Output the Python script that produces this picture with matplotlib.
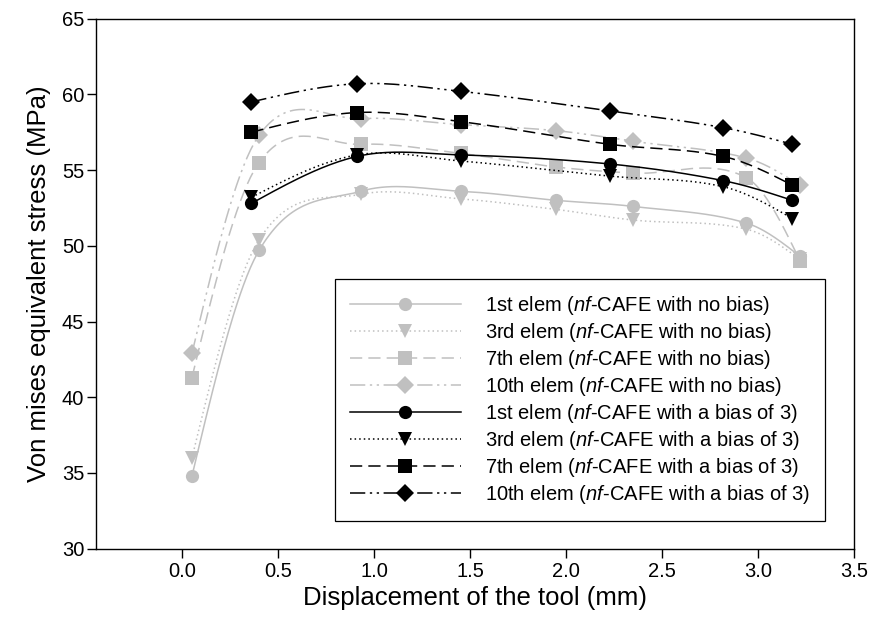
import numpy as np
import matplotlib
matplotlib.use('Agg')
import matplotlib.pyplot as plt
from matplotlib.lines import Line2D

plt.rcParams['font.family'] = ['Liberation Sans', 'DejaVu Sans']
plt.rcParams['mathtext.fontset'] = 'custom'
plt.rcParams['mathtext.rm'] = 'Liberation Sans'
plt.rcParams['mathtext.it'] = 'Liberation Sans:italic'

# displacement (mm)
x_nobias = [0.05, 0.40, 0.93, 1.45, 1.95, 2.35, 2.94, 3.22]
x_bias = [0.36, 0.91, 1.45, 2.23, 2.82, 3.18]

# von mises stress (MPa), nf-CAFE with no bias
nb_1st = [34.8, 49.7, 53.6, 53.6, 53.0, 52.6, 51.5, 49.3]
nb_3rd = [36.0, 50.4, 53.4, 53.1, 52.4, 51.7, 51.1, 49.1]
nb_7th = [41.3, 55.5, 56.7, 56.1, 55.2, 54.8, 54.5, 49.0]
nb_10th = [42.9, 57.3, 58.4, 58.0, 57.6, 56.9, 55.8, 54.0]

# nf-CAFE with a bias of 3
b3_1st = [52.8, 55.9, 56.0, 55.4, 54.3, 53.0]
b3_3rd = [53.2, 56.0, 55.6, 54.6, 53.9, 51.8]
b3_7th = [57.5, 58.8, 58.2, 56.7, 55.9, 54.0]
b3_10th = [59.5, 60.7, 60.2, 58.9, 57.8, 56.7]

labels = [
    r'1st elem ($\mathit{nf}$-CAFE with no bias)',
    r'3rd elem ($\mathit{nf}$-CAFE with no bias)',
    r'7th elem ($\mathit{nf}$-CAFE with no bias)',
    r'10th elem ($\mathit{nf}$-CAFE with no bias)',
    r'1st elem ($\mathit{nf}$-CAFE with a bias of 3)',
    r'3rd elem ($\mathit{nf}$-CAFE with a bias of 3)',
    r'7th elem ($\mathit{nf}$-CAFE with a bias of 3)',
    r'10th elem ($\mathit{nf}$-CAFE with a bias of 3)',
]


def smooth(x, y, n=40):
    # Catmull-Rom style Hermite curve through the points
    x = np.asarray(x, float)
    y = np.asarray(y, float)
    m = len(x)
    d = np.diff(y) / np.diff(x)
    t = np.zeros(m)
    t[1:-1] = (y[2:] - y[:-2]) / (x[2:] - x[:-2])
    t[0] = (3 * d[0] - t[1]) / 2
    t[-1] = (3 * d[-1] - t[-2]) / 2
    xs_all, ys_all = [], []
    for i in range(m - 1):
        h = x[i + 1] - x[i]
        s = np.linspace(0, 1, n)
        h00 = 2 * s**3 - 3 * s**2 + 1
        h10 = s**3 - 2 * s**2 + s
        h01 = -2 * s**3 + 3 * s**2
        h11 = s**3 - s**2
        xs_all.append(x[i] + s * h)
        ys_all.append(h00 * y[i] + h10 * h * t[i] + h01 * y[i + 1] + h11 * h * t[i + 1])
    return np.concatenate(xs_all), np.concatenate(ys_all)


gray = '#c0c0c0'
styles = ['-', (0, (1, 2)), (0, (8, 4)), (0, (10, 3, 1.5, 3, 1.5, 3))]
markers = ['o', 'v', 's', 'D']
msizes = [9.5, 10, 9.5, 9.5]

series = [(x_nobias, nb_1st), (x_nobias, nb_3rd), (x_nobias, nb_7th), (x_nobias, nb_10th),
          (x_bias, b3_1st), (x_bias, b3_3rd), (x_bias, b3_7th), (x_bias, b3_10th)]

fig = plt.figure(figsize=(8.73, 6.42), dpi=100)
ax = fig.add_axes([0.110, 0.1453, 0.868, 0.8257])

handles = []
for k, (xv, yv) in enumerate(series):
    col = gray if k < 4 else 'black'
    ls = styles[k % 4]
    mk = markers[k % 4]
    ms = msizes[k % 4]
    z = 2 if k < 4 else 3
    xs, ys = smooth(xv, yv)
    ax.plot(xs, ys, color=col, linestyle=ls, linewidth=1.1, zorder=z)
    ax.plot(xv, yv, linestyle='none', marker=mk, markersize=ms, color=col,
            markeredgewidth=0, zorder=z + 0.5)
    handles.append(Line2D([], [], color=col, linestyle=ls, linewidth=1.1,
                          marker=mk, markersize=ms, markeredgewidth=0))

ax.set_xlim(-0.45, 3.5)
ax.set_ylim(30, 65)
ax.set_xticks([0.0, 0.5, 1.0, 1.5, 2.0, 2.5, 3.0, 3.5])
ax.set_yticks([30, 35, 40, 45, 50, 55, 60, 65])
ax.set_xticklabels(['0.0', '0.5', '1.0', '1.5', '2.0', '2.5', '3.0', '3.5'])
ax.tick_params(axis='both', direction='out', length=6.5, width=1, labelsize=14.5)
ax.tick_params(axis='x', pad=3)
ax.tick_params(axis='y', pad=2)
ax.tick_params(top=False, right=False)
for sp in ax.spines.values():
    sp.set_linewidth(1)
    sp.set_color('black')

ax.set_xlabel('Displacement of the tool (mm)', fontsize=18.5, labelpad=4)
ax.set_ylabel('Von mises equivalent stress (MPa)', fontsize=18.5, labelpad=8)

leg = ax.legend(handles, labels, loc='upper left',
                bbox_to_anchor=(335 / 873, 1 - 279 / 642), bbox_transform=fig.transFigure,
                fontsize=14.5, frameon=True, fancybox=False, framealpha=1,
                edgecolor='black', handlelength=5.5, handletextpad=1.2,
                labelspacing=0.2, borderpad=0.75, borderaxespad=0)
leg.get_frame().set_linewidth(0.9)

fig.savefig('out.png', dpi=100)
